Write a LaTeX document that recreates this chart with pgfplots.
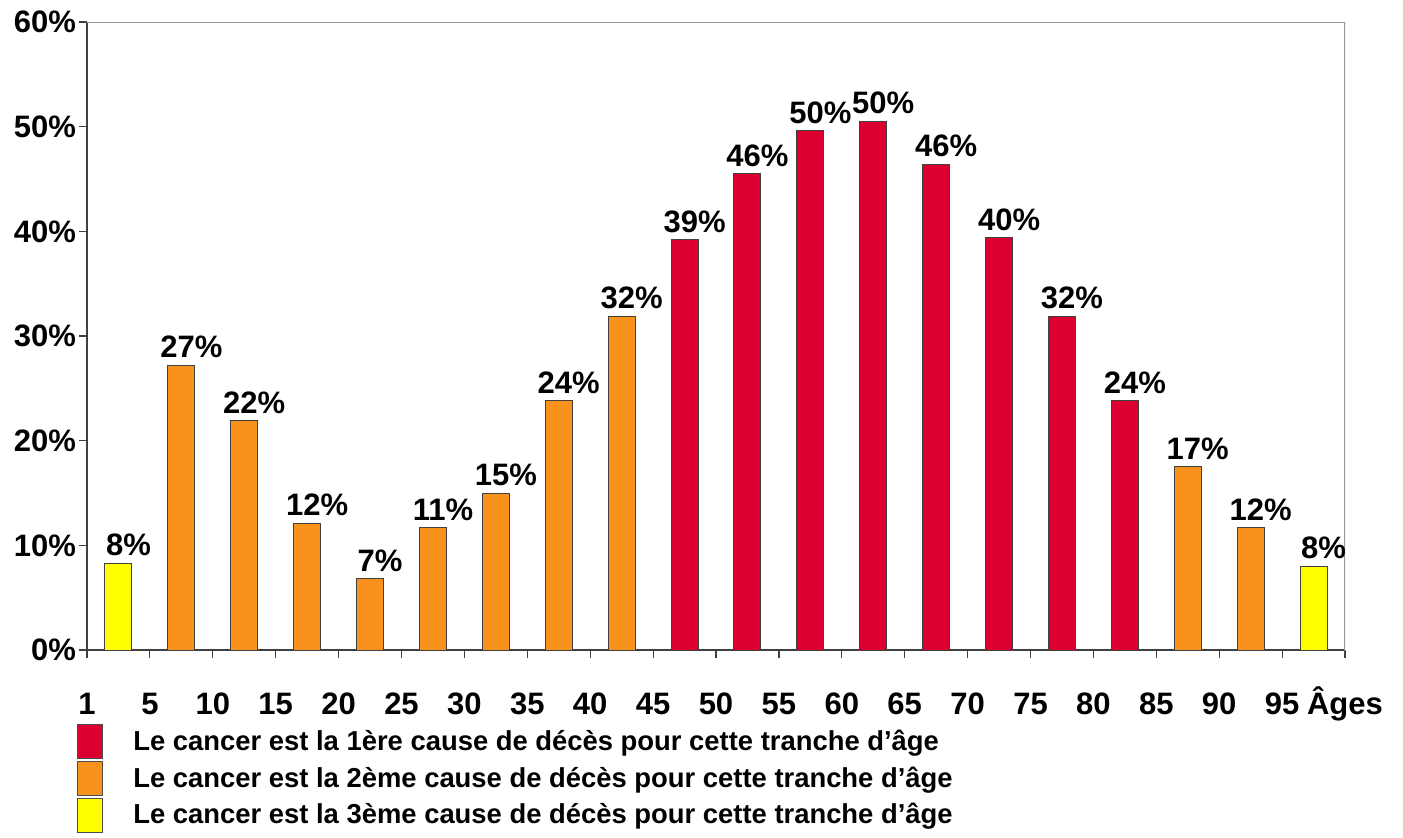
\documentclass[border=0pt]{standalone}
\usepackage{fontspec}
\setmainfont{Liberation Sans}
\usepackage{pgfplots}
\pgfplotsset{compat=1.18}
\definecolor{cred}{RGB}{220,0,48}
\definecolor{corange}{RGB}{248,146,28}
\definecolor{cyellow}{RGB}{255,255,0}
\begin{document}
\begin{tikzpicture}
\path[use as bounding box] (-43.5pt,-93.5pt) rectangle (658pt,325pt);
\begin{axis}[
  at={(0,0)}, anchor=south west,
  scale only axis, width=629pt, height=314pt,
  xmin=0, xmax=20, ymin=0, ymax=60,
  ybar, bar width=13.5pt,
  axis x line*=bottom, axis y line*=left,
  axis line style={draw=black!75, line width=0.7pt},
  xtick={0,...,20},
  xticklabels={1,5,10,15,20,25,30,35,40,45,50,55,60,65,70,75,80,85,90,95,Âges},
  ytick={0,10,...,60},
  yticklabel={\pgfmathprintnumber{\tick}\%},
  tick align=outside, major tick length=4pt,
  tick style={draw=black!75, line width=0.6pt},
  /pgf/number format/assume math mode=true,
  ticklabel style={font=\bfseries\fontsize{15.5}{15.5}\selectfont},
  xticklabel style={text height=14.5pt, text depth=3.5pt, yshift=-10pt},
  yticklabel style={xshift=2pt},
  point meta=explicit,
  nodes near coords={\pgfmathprintnumber{\pgfplotspointmeta}\%},
  every node near coord/.append style={font=\bfseries\fontsize{15.5}{15.5}\selectfont, xshift=5pt, black},
  every axis plot post/.append style={bar shift=0pt, draw=black!75, line width=0.5pt,
    legend image code/.code={\draw[##1, draw=black!70, line width=0.5pt] (0pt,-8.5pt) rectangle (12.5pt,8.5pt);}},
  legend style={at={(axis description cs:0,0)}, anchor=north west, xshift=-5pt, yshift=-37pt,
    draw=none, fill=none, inner sep=0pt, row sep=0.8pt,
    font=\bfseries\fontsize{13.7}{13.7}\selectfont,
    /tikz/every odd column/.append style={column sep=13pt}},
  legend cell align=left,
]
\addplot[fill=cred] coordinates {
  (9.5,39.2) [39] (10.5,45.5) [46] (11.5,49.6) [50] (12.5,50.5) [50] (13.5,46.4) [46] (14.5,39.4) [40] (15.5,31.9) [32] (16.5,23.8) [24]
};
\addplot[fill=corange] coordinates {
  (1.5,27.2) [27] (2.5,21.9) [22] (3.5,12.1) [12] (4.5,6.8) [7] (5.5,11.7) [11] (6.5,15.0) [15] (7.5,23.8) [24] (8.5,31.9) [32] (17.5,17.5) [17] (18.5,11.7) [12]
};
\addplot[fill=cyellow] coordinates {
  (0.5,8.3) [8] (19.5,8.0) [8]
};
\legend{Le cancer est la 1ère cause de décès pour cette tranche d'âge,
        Le cancer est la 2ème cause de décès pour cette tranche d'âge,
        Le cancer est la 3ème cause de décès pour cette tranche d'âge}
\draw[gray!80, line width=0.8pt] (rel axis cs:0,1) -- (rel axis cs:1,1) -- (rel axis cs:1,0) -- ++(0,-4pt);
\end{axis}
\end{tikzpicture}
\end{document}
